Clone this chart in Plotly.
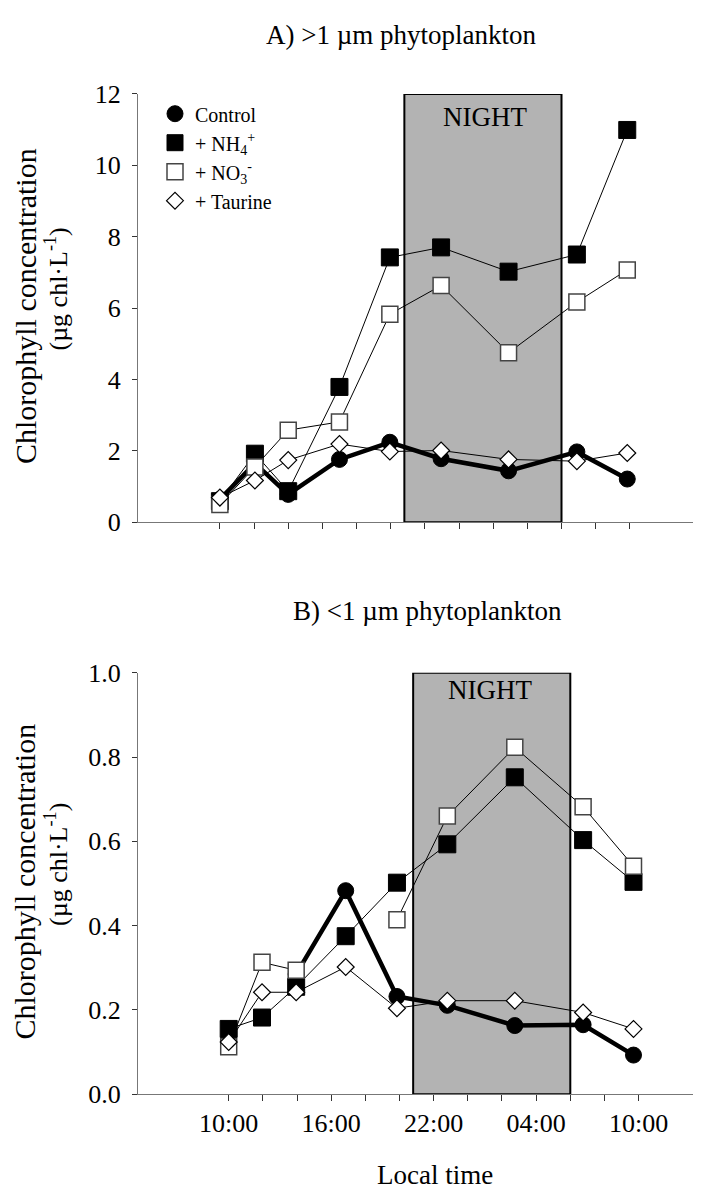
import plotly.graph_objects as go

# ---------------- data ----------------
# hours after 10:00 local time
time_a = [0.0, 2.05, 4.0, 7.0, 9.95, 12.95, 16.9, 20.9, 23.85]
time_b = [0.0, 1.95, 3.95, 6.85, 9.85, 12.8, 16.75, 20.75, 23.7]

control_a = [0.64, 1.65, 0.78, 1.76, 2.24, 1.78, 1.44, 1.97, 1.21]
nh4_a = [0.59, 1.92, 0.87, 3.79, 7.42, 7.70, 7.02, 7.50, 10.99]
no3_a = [0.50, 1.55, 2.58, 2.81, 5.83, 6.63, 4.75, 6.17, 7.07]
taurine_a = [0.69, 1.17, 1.74, 2.19, 1.98, 2.01, 1.76, 1.71, 1.94]

control_b = [None, None, 0.285, 0.483, 0.232, 0.211, 0.163, 0.165, 0.093]
nh4_b = [0.155, 0.182, 0.255, 0.375, 0.502, 0.593, 0.752, 0.603, 0.504]
no3_b = [0.113, 0.313, 0.294, None, 0.414, 0.660, 0.823, 0.682, 0.541]
taurine_b = [0.124, 0.242, 0.242, 0.302, 0.204, 0.222, 0.222, 0.194, 0.155]

night = [10.8, 20.0]
tick_hours = list(range(0, 25, 2))
tick_text = ["10:00", "", "", "16:00", "", "", "22:00", "", "", "04:00", "", "", "10:00"]

series_names = ["Control", "+ NH<sub>4</sub><sup>+</sup>", "+ NO<sub>3</sub><sup>-</sup>", "+ Taurine"]
ytitle_1 = "Chlorophyll concentration"
ytitle_2 = "(µg chl·L<sup>-1</sup>)"

# ---------------- styles / geometry ----------------
FONT = "Liberation Serif, Times New Roman, serif"
OFF = 8                      # default body margin of the html page
W, H = 701 - 2 * OFF, 1200 - OFF
L = 130
PW = W - L

def fx(page_x):
    return (page_x - OFF - L) / PW

def fy(page_y):
    return (H - (page_y - OFF)) / H

styles = [
    dict(marker=dict(symbol="circle", size=16, color="black", line=dict(color="black", width=1)),
         line=dict(color="black", width=4.5)),
    dict(marker=dict(symbol="square", size=17, color="black", line=dict(color="black", width=1)),
         line=dict(color="black", width=1)),
    dict(marker=dict(symbol="square", size=16, color="white", line=dict(color="#444", width=1.5)),
         line=dict(color="black", width=1)),
    dict(marker=dict(symbol="diamond", size=13, color="white", line=dict(color="black", width=1.2)),
         line=dict(color="black", width=1)),
]

fig = go.Figure()

panels = [
    ("x", "y", time_a, [control_a, nh4_a, no3_a, taurine_a]),
    ("x2", "y2", time_b, [control_b, nh4_b, no3_b, taurine_b]),
]
for xa, ya, t, series in panels:
    for i, vals in enumerate(series):
        st = styles[i]
        fig.add_trace(go.Scatter(
            x=t, y=vals, xaxis=xa, yaxis=ya, mode="lines+markers",
            marker=st["marker"], line=st["line"], connectgaps=False,
            showlegend=False, name=series_names[i], hoverinfo="skip"))

# legend-only entries (markers only, as in the reference legend)
for i, nm in enumerate(series_names):
    st = styles[i]
    fig.add_trace(go.Scatter(x=[None], y=[None], xaxis="x", yaxis="y", mode="markers",
                             marker=st["marker"], name=nm, showlegend=True))

PXH = 17.08  # pixels per hour
top_x0 = -(220.2 - 138.3) / PXH
bot_x0 = -(229.0 - 138.3) / PXH
top_x_range = [top_x0, top_x0 + PW / PXH]
bot_x_range = [bot_x0, bot_x0 + PW / PXH]

tickfont = dict(family=FONT, size=26, color="black")
common = dict(showline=True, linecolor="#777", linewidth=1, ticks="outside",
              tickcolor="#333", tickwidth=1, showgrid=False, zeroline=False, tickfont=tickfont)

fig.update_layout(
    width=W, height=H,
    margin=dict(l=L, r=0, t=0, b=0),
    paper_bgcolor="white", plot_bgcolor="white",
    font=dict(family=FONT, color="black"),
    xaxis=dict(domain=[0, 1], range=top_x_range, anchor="y", tickvals=tick_hours,
               showticklabels=False, ticklen=6, **common),
    yaxis=dict(domain=[fy(520.7), fy(81.7)], range=[0, 12], anchor="x",
               tickvals=[0, 2, 4, 6, 8, 10, 12], ticklen=5, ticklabelstandoff=6, **common),
    xaxis2=dict(domain=[0, 1], range=bot_x_range, anchor="y2", tickvals=tick_hours,
                ticktext=tick_text, ticklen=6, ticklabelstandoff=0, **common),
    yaxis2=dict(domain=[fy(1107), fy(675)], range=[0, 1], anchor="x2",
                tickvals=[0, 0.2, 0.4, 0.6, 0.8, 1.0], tickformat=".1f", ticklen=5,
                ticklabelstandoff=6, **common),
    legend=dict(x=fx(155), y=fy(82), xanchor="left", yanchor="top",
                bgcolor="rgba(0,0,0,0)", font=dict(family=FONT, size=20, color="black")),
    showlegend=True,
)

# night boxes
for xr, yr, ytop in [("x", "y", 12), ("x2", "y2", 1.0)]:
    fig.add_shape(type="rect", xref=xr, yref=yr, x0=night[0], x1=night[1], y0=0, y1=ytop,
                  fillcolor="#b3b3b3", line=dict(color="black", width=2), layer="below")

ann_font = dict(family=FONT, size=27, color="black")
fig.add_annotation(xref="x", yref="y", x=15.55, y=11.36, text="NIGHT", showarrow=False,
                   xanchor="center", yanchor="middle", font=ann_font)
fig.add_annotation(xref="x2", yref="y2", x=15.3, y=0.96, text="NIGHT", showarrow=False,
                   xanchor="center", yanchor="middle", font=ann_font)

# titles
fig.add_annotation(xref="paper", yref="paper", x=fx(401), y=fy(21),
                   text="A) >1 µm phytoplankton", showarrow=False,
                   xanchor="center", yanchor="middle", font=ann_font)
fig.add_annotation(xref="paper", yref="paper", x=fx(427), y=fy(612),
                   text="B) <1 µm phytoplankton", showarrow=False,
                   xanchor="center", yanchor="middle", font=ann_font)
fig.add_annotation(xref="paper", yref="paper", x=fx(435), y=fy(1190),
                   text="Local time", showarrow=False,
                   xanchor="center", yanchor="middle", font=ann_font)

# y-axis titles (two lines each, rotated)
for ya, mid in [("y", (520.7 + 81.7) / 2), ("y2", (1107 + 675) / 2)]:
    fig.add_annotation(xref="paper", yref="paper", x=fx(25), y=fy(mid - 2), text=ytitle_1,
                       textangle=-90, showarrow=False, xanchor="center", yanchor="middle",
                       font=dict(family=FONT, size=30, color="black"))
    fig.add_annotation(xref="paper", yref="paper", x=fx(57), y=fy(mid - 19), text=ytitle_2,
                       textangle=-90, showarrow=False, xanchor="center", yanchor="middle",
                       font=dict(family=FONT, size=26, color="black"))

fig.write_html("out.html")
